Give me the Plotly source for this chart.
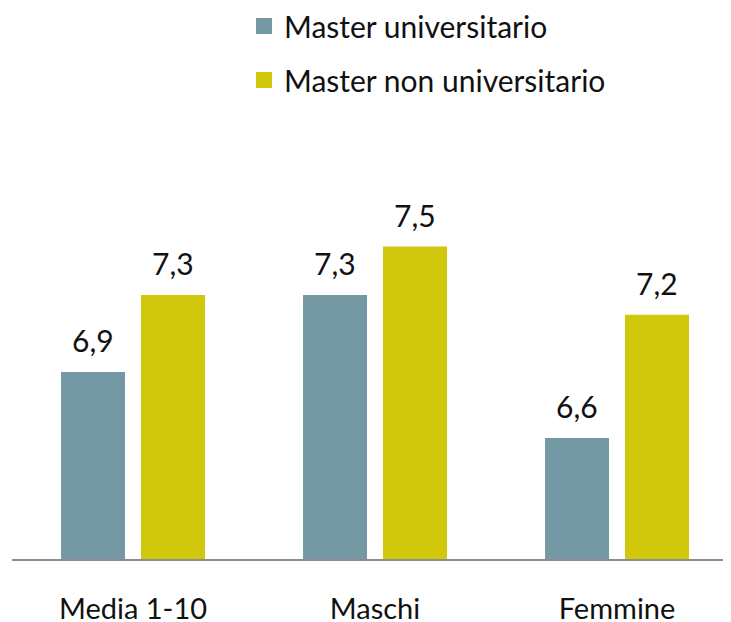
import plotly.graph_objects as go

categories = ["Media 1-10", "Maschi", "Femmine"]
series_names = ["Master universitario", "Master non universitario"]
master_univ = [6.93, 7.28, 6.63]
master_non_univ = [7.28, 7.50, 7.19]
labels_univ = ["6,9", "7,3", "6,6"]
labels_non_univ = ["7,3", "7,5", "7,2"]
colors = ["#7599A4", "#D1C70D"]

FONT = "Lato, 'Open Sans', sans-serif"
FS = 30
W, H = 731, 622
# page body has an 8px margin, so positions are shifted accordingly
L, R, T, B = 4, 8, 142, 71
PH = H - T - B

fig = go.Figure()
xs = list(range(len(categories)))
for vals, name, col in [(master_univ, series_names[0], colors[0]),
                        (master_non_univ, series_names[1], colors[1])]:
    fig.add_trace(go.Bar(x=xs, y=vals, name=name, marker_color=col,
                         marker_line_width=0, showlegend=False))

# legend entries
for i, (name, col) in enumerate(zip(series_names, colors)):
    fig.add_trace(go.Scatter(x=[None], y=[None], mode="markers", name=name,
                             marker=dict(symbol="square", size=16, color=col),
                             legendgroup=f"g{i}"))

offset = 40 / 242
for vals, labs, sgn in [(master_univ, labels_univ, -1), (master_non_univ, labels_non_univ, 1)]:
    for i, (v, t) in enumerate(zip(vals, labs)):
        fig.add_annotation(x=i + sgn * offset, y=v, text=t, showarrow=False,
                           yanchor="bottom", yshift=12,
                           font=dict(family=FONT, size=FS, color="#111111"))

fig.update_layout(
    width=W, height=H,
    margin=dict(l=L, r=R, t=T, b=B, autoexpand=False),
    paper_bgcolor="white", plot_bgcolor="white",
    barmode="group", bargap=0.339, bargroupgap=0.2,
    font=dict(family=FONT, size=FS, color="#111111"),
    showlegend=True,
    legend=dict(x=(236 - L) / (W - L - R), y=1 + (T + 8) / PH,
                xanchor="left", yanchor="top", tracegroupgap=12,
                font=dict(family=FONT, size=FS, color="#111111"),
                bgcolor="rgba(0,0,0,0)"),
)
fig.update_xaxes(range=[-0.5, 2.471], tickvals=xs, ticktext=categories,
                 tickangle=0,
                 showline=True, linecolor="#8C8C8C", linewidth=2,
                 showgrid=False, zeroline=False, ticks="", ticklabelstandoff=23,
                 tickfont=dict(family=FONT, size=29, color="#111111"))
fig.update_yaxes(range=[6.08, 6.08 + PH / 220], visible=False, showgrid=False)

fig.write_html("out.html")
